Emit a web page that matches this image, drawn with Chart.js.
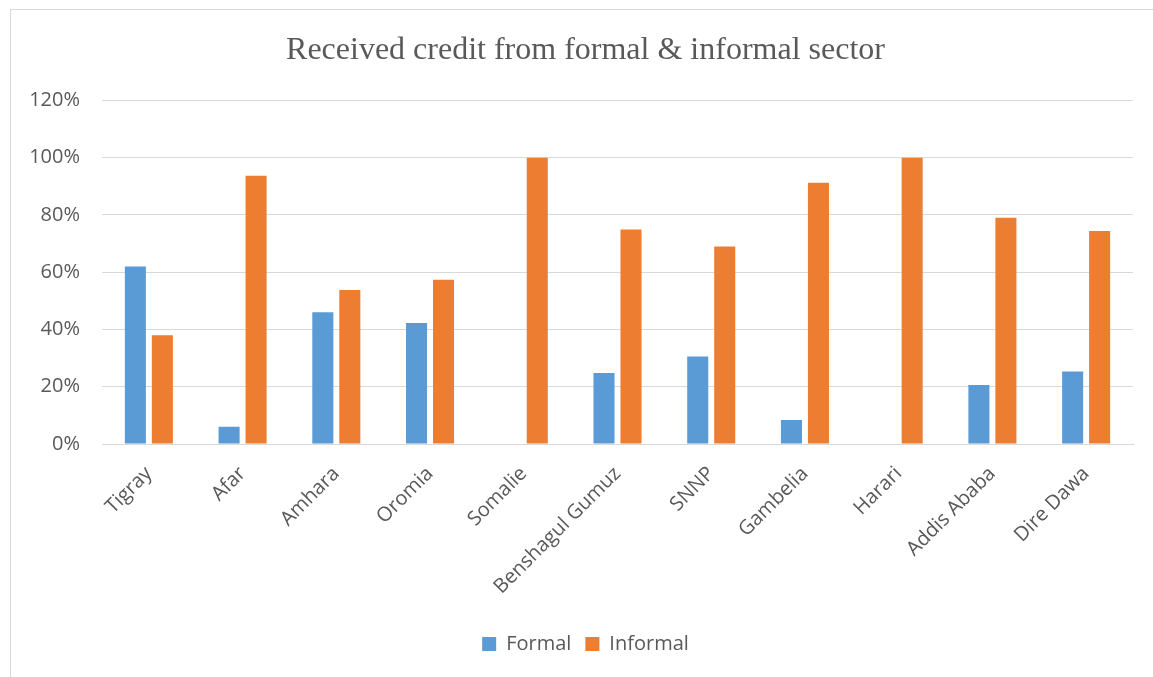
<!DOCTYPE html>
<html>
<head>
<meta charset="utf-8">
<script src="https://cdn.jsdelivr.net/npm/chart.js@4/dist/chart.umd.min.js"></script>
<style>
    body { margin: 0; background: #fff; overflow: hidden; width: 1153px; height: 677px; position: relative; }
    .frame { position: absolute; left: 10px; top: 9px; width: 1160px; height: 700px; border: 1px solid #d9d9d9; }
    #chart { position: absolute; left: 0; top: 0; }
</style>
</head>
<body>
<div class="frame"></div>
<canvas id="chart" width="1191" height="677"></canvas>
<script>
// Data
const regions = ['Tigray', 'Afar', 'Amhara', 'Oromia', 'Somalie', 'Benshagul Gumuz', 'SNNP', 'Gambelia', 'Harari', 'Addis Ababa', 'Dire Dawa'];
const formal = [62, 6, 46, 42.3, 0, 24.8, 30.6, 8.4, 0, 20.6, 25.3];
const informal = [38, 93.7, 53.8, 57.4, 100, 74.9, 69, 91.2, 100, 79, 74.4];
const yTicks = [0, 20, 40, 60, 80, 100, 120];

const textColor = '#595959';
const gridColor = '#d9d9d9';
const sans = '"Open Sans", sans-serif';

renderChart();

function renderChart() {
    const ctx = document.getElementById('chart');

    new Chart(ctx, {
        type: 'bar',
        data: {
            labels: regions,
            datasets: [{
                label: 'Formal',
                data: formal,
                backgroundColor: '#5b9bd5'
            }, {
                label: 'Informal',
                data: informal,
                backgroundColor: '#ed7d31'
            }]
        },
        options: {
            responsive: false,
            animation: false,
            categoryPercentage: 0.576,
            barPercentage: 0.78,
            layout: { padding: { left: 0, right: 20, top: 0, bottom: 13 } },
            plugins: {
                title: {
                    display: true,
                    text: 'Received credit from formal & informal sector',
                    color: textColor,
                    font: { family: '"Liberation Serif", serif', size: 32, weight: 'normal' },
                    padding: { top: 31, bottom: 31 }
                },
                legend: {
                    position: 'bottom',
                    labels: {
                        color: textColor,
                        font: { family: sans, size: 20 },
                        boxWidth: 14,
                        boxHeight: 14,
                        padding: 14
                    }
                },
                tooltip: { enabled: false }
            },
            scales: {
                x: {
                    grid: { display: false, drawTicks: false },
                    border: { color: gridColor, width: 1 },
                    ticks: {
                        color: textColor,
                        font: { family: sans, size: 20 },
                        minRotation: 45,
                        maxRotation: 45,
                        padding: 18
                    },
                    afterFit: scale => { scale.height = 176; }
                },
                y: {
                    min: 0,
                    max: 120,
                    afterBuildTicks: scale => { scale.ticks = yTicks.map(v => ({ value: v })); },
                    grid: { color: gridColor, lineWidth: 1, drawTicks: false },
                    border: { display: false },
                    ticks: {
                        color: textColor,
                        font: { family: sans, size: 20 },
                        padding: 22,
                        callback: v => v + '%'
                    },
                    afterFit: scale => { scale.width = 102; }
                },
                // empty spacer on the right, so title and legend sit off-centre like the original
                spacer: {
                    type: 'linear',
                    position: 'right',
                    grid: { display: false, drawTicks: false },
                    border: { display: false },
                    ticks: { display: false },
                    afterFit: scale => { scale.width = 38; }
                }
            }
        }
    });
}
</script>
</body>
</html>
